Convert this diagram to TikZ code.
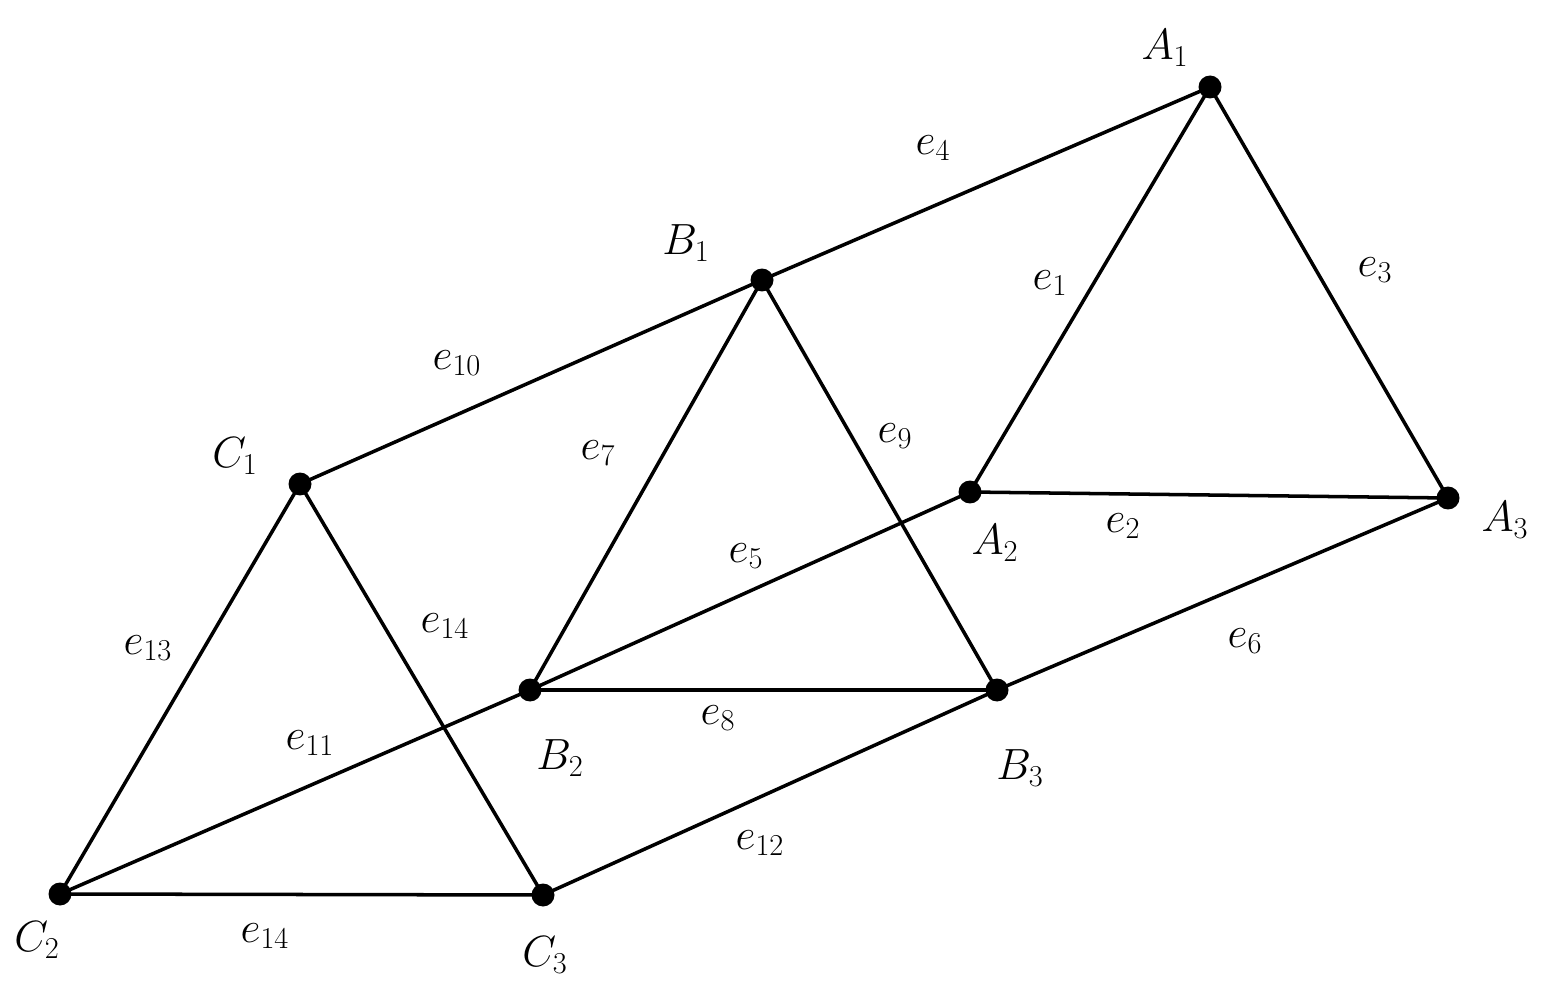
\documentclass[tikz,border=0pt]{standalone}
\begin{document}
\begin{tikzpicture}[x=0.02cm,y=-0.02cm,line width=2pt,
  pt/.style={circle,fill=black,inner sep=0pt,minimum size=0.46cm},
  lab/.style={font=\fontsize{27}{30}\selectfont}]
\useasboundingbox (0,0) rectangle (1546,993);
\node[pt] (A1) at (1210,87) {};
\node[pt] (A2) at (970,492) {};
\node[pt] (A3) at (1448,498) {};
\node[pt] (B1) at (762,280) {};
\node[pt] (B2) at (530,690) {};
\node[pt] (B3) at (997,690) {};
\node[pt] (C1) at (300,484) {};
\node[pt] (C2) at (60,894) {};
\node[pt] (C3) at (543,895) {};
\draw (A1.center)--(A2.center)--(A3.center)--(A1.center);
\draw (B1.center)--(B2.center)--(B3.center)--(B1.center);
\draw (C1.center)--(C2.center)--(C3.center)--(C1.center);
\draw (A1.center)--(B1.center)--(C1.center);
\draw (A2.center)--(B2.center)--(C2.center);
\draw (A3.center)--(B3.center)--(C3.center);
\node[lab] (lA1) at (1165,48) {$A_1$};
\node[lab] (lA2) at (995,543) {$A_2$};
\node[lab] (lA3) at (1505,520) {$A_3$};
\node[lab] (lB1) at (686,243) {$B_1$};
\node[lab] (lB2) at (560,758) {$B_2$};
\node[lab] (lB3) at (1020,768) {$B_3$};
\node[lab] (lC1) at (235,456) {$C_1$};
\node[lab] (lC2) at (37,940) {$C_2$};
\node[lab] (lC3) at (545,955) {$C_3$};
\node[lab] (e1) at (1050,283) {$e_1$};
\node[lab] (e2) at (1123,526) {$e_2$};
\node[lab] (e3) at (1375,270) {$e_3$};
\node[lab] (e4) at (933,148) {$e_4$};
\node[lab] (e5) at (746,556) {$e_5$};
\node[lab] (e6) at (1245,641) {$e_6$};
\node[lab] (e7) at (598,453) {$e_7$};
\node[lab] (e8) at (718,718) {$e_8$};
\node[lab] (e9) at (895,436) {$e_9$};
\node[lab] (e10) at (457,363) {$e_{10}$};
\node[lab] (e11) at (310,743) {$e_{11}$};
\node[lab] (e12) at (760,843) {$e_{12}$};
\node[lab] (e13) at (148,648) {$e_{13}$};
\node[lab] (e14a) at (445,626) {$e_{14}$};
\node[lab] (e14b) at (265,936) {$e_{14}$};
\end{tikzpicture}
\end{document}
